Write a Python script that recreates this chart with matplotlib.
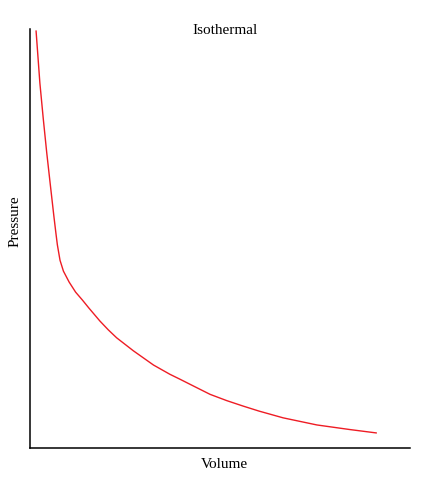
import matplotlib.pyplot as plt

# Puntos (unidades arbitrarias, ejes 0..10)
volume = [0.16, 0.26, 0.35, 0.44, 0.53, 0.59, 0.63, 0.68, 0.72, 0.79, 0.88,
          1.03, 1.20, 1.38, 1.55, 1.84, 2.06, 2.28, 2.72, 3.25, 3.68, 3.95,
          4.30, 4.74, 5.18, 5.61, 6.03, 6.66, 7.55, 8.42, 9.11]
pressure = [9.95, 8.71, 7.85, 7.05, 6.32, 5.84, 5.52, 5.14, 4.85, 4.48, 4.22,
            3.96, 3.72, 3.53, 3.34, 3.03, 2.82, 2.63, 2.32, 1.98, 1.76, 1.64,
            1.48, 1.28, 1.13, 1.00, 0.88, 0.72, 0.55, 0.44, 0.36]

plt.rcParams['font.family'] = ['Liberation Serif', 'DejaVu Serif']

fig = plt.figure(figsize=(4.4, 4.8), dpi=100)
ax = fig.add_axes([30/440, 32/480, 380/440, 419/480])

ax.plot(volume, pressure, color='#ee1c24', linewidth=1.0)

ax.set_xlim(0, 10)
ax.set_ylim(0, 10)
ax.set_xticks([])
ax.set_yticks([])
ax.spines['top'].set_visible(False)
ax.spines['right'].set_visible(False)
for s in ('left', 'bottom'):
    ax.spines[s].set_linewidth(1.1)
    ax.spines[s].set_color('black')

fig.text(225/440, 1 - 30/480, 'Isothermal', ha='center', va='center', fontsize=11)
fig.text(224/440, 1 - 464/480, 'Volume', ha='center', va='center', fontsize=11)
fig.text(15/440, 1 - 221/480, 'Pressure', ha='center', va='center',
         rotation=90, fontsize=11)

fig.savefig('out.png', dpi=100)
